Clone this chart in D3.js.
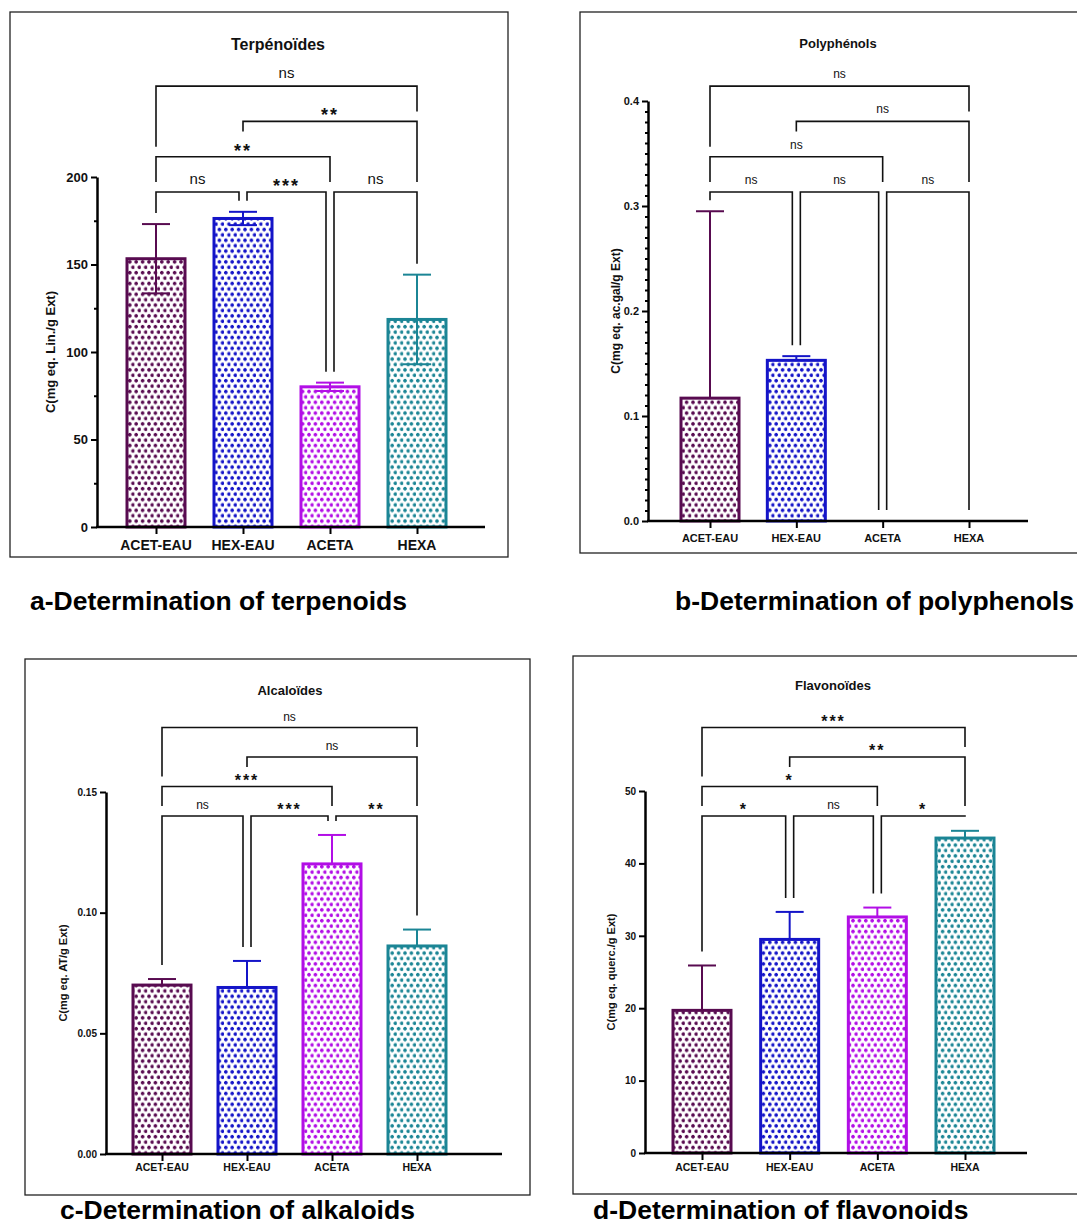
<!DOCTYPE html>
<html>
<head>
<meta charset="utf-8">
<script src="https://cdn.jsdelivr.net/npm/d3@7"></script>
<style>
  body { margin: 0; background: #fff; }
  text { font-family: "Liberation Sans", Arial, sans-serif; }
</style>
</head>
<body>
<svg id="fig" width="1077" height="1226"></svg>
<script>
// groups and colours
var groups = ["ACET-EAU", "HEX-EAU", "ACETA", "HEXA"];
var colors = ["#580b50", "#1414c8", "#b20ee6", "#1b8595"];

// a - terpenoids
var terpMean = [153.3, 176.3, 80.1, 118.6];
var terpSd = [19.8, 3.8, 2.4, 25.6];
var terpTicks = [0, 50, 100, 150, 200];
var terpMinor = [25, 75, 125, 175];
var terpStats = [[0, 1, 0, "ns"], [1, 2, 0, "***"], [2, 3, 0, "ns"], [0, 2, 1, "**"], [1, 3, 2, "**"], [0, 3, 3, "ns"]];

// b - polyphenols
var polyMean = [0.117, 0.153, 0, 0];
var polySd = [0.178, 0.004, 0, 0];
var polyTicks = [0, 0.1, 0.2, 0.3, 0.4];
var polyStats = [[0, 1, 0, "ns"], [1, 2, 0, "ns"], [2, 3, 0, "ns"], [0, 2, 1, "ns"], [1, 3, 2, "ns"], [0, 3, 3, "ns"]];

// c - alkaloids
var alcMean = [0.0700, 0.0690, 0.1202, 0.0862];
var alcSd = [0.0025, 0.0110, 0.0120, 0.0068];
var alcTicks = [0, 0.05, 0.10, 0.15];
var alcStats = [[0, 1, 0, "ns"], [1, 2, 0, "***"], [2, 3, 0, "**"], [0, 2, 1, "***"], [1, 3, 2, "ns"], [0, 3, 3, "ns"]];

// d - flavonoids
var flavMean = [19.7, 29.5, 32.6, 43.5];
var flavSd = [6.2, 3.8, 1.3, 1.0];
var flavTicks = [0, 10, 20, 30, 40, 50];
var flavStats = [[0, 1, 0, "*"], [1, 2, 0, "ns"], [2, 3, 0, "*"], [0, 2, 1, "*"], [1, 3, 2, "**"], [0, 3, 3, "***"]];

var svg = d3.select("#fig");
var barW = 58;

// dotted fill patterns, one per colour
var defs = svg.append("defs");
colors.forEach(function(c, i) {
  var pat = defs.append("pattern")
    .attr("id", "pat" + i)
    .attr("patternUnits", "userSpaceOnUse")
    .attr("width", 6.4)
    .attr("height", 10.8);
  pat.append("rect").attr("width", 6.4).attr("height", 10.8).attr("fill", "#fff");
  [[1.8, 2.7], [5.0, 8.1]].forEach(function(pt) {
    pat.append("rect").attr("x", pt[0] - 1.8).attr("y", pt[1] - 1).attr("width", 3.6).attr("height", 2).attr("fill", c);
    pat.append("rect").attr("x", pt[0] - 1).attr("y", pt[1] - 1.8).attr("width", 2).attr("height", 3.6).attr("fill", c);
  });
});

var panels = [
  { title: "Terpénoïdes", ylab: "C(mg eq. Lin./g Ext)", mean: terpMean, sd: terpSd, stats: terpStats,
    ticks: terpTicks, minor: terpMinor, yMax: 200, fmt: d3.format("d"), lowerErr: true,
    frame: [10, 12, 498, 545], ax: 97, axEnd: 485, y0: 527, yTop: 177, cx: [156, 417],
    lvl0: 192, lvlStep: 35.3, titleX: 278, titleY: 50, ylabX: 55, xlabY: 550,
    fTick: 13, fX: 14, fTitle: 16, fYlab: 13, fNs: 15, fStar: 18, nsGap: 8, starGap: 0, barGap: 11,
    caption: "a-Determination of terpenoids", capX: 30, capY: 610 },
  { title: "Polyphénols", ylab: "C(mg eq. ac.gal/g Ext)", mean: polyMean, sd: polySd, stats: polyStats,
    ticks: polyTicks, minor: d3.range(1, 40).filter(function(v) { return v % 10; }).map(function(v) { return v / 100; }),
    yMax: 0.4, fmt: d3.format(".1f"), lowerErr: false,
    frame: [580, 12, 505, 541], ax: 648, axEnd: 1028, y0: 521, yTop: 101, cx: [710, 969],
    lvl0: 192, lvlStep: 35.3, titleX: 838, titleY: 48, ylabX: 620, xlabY: 542,
    fTick: 11, fX: 11, fTitle: 13, fYlab: 12, fNs: 12, fStar: 14, nsGap: 8, starGap: 0, barGap: 11,
    caption: "b-Determination of polyphenols", capX: 675, capY: 610 },
  { title: "Alcaloïdes", ylab: "C(mg eq. AT/g Ext)", mean: alcMean, sd: alcSd, stats: alcStats,
    ticks: alcTicks, minor: [], yMax: 0.15, fmt: d3.format(".2f"), lowerErr: false,
    frame: [25, 659, 505, 536], ax: 106, axEnd: 502, y0: 1154, yTop: 792, cx: [162, 417],
    lvl0: 816, lvlStep: 29.5, titleX: 290, titleY: 695, ylabX: 67, xlabY: 1171,
    fTick: 10, fX: 10.5, fTitle: 13, fYlab: 11, fNs: 12, fStar: 16, nsGap: 7, starGap: 1, barGap: 14,
    caption: "c-Determination of alkaloids", capX: 60, capY: 1219 },
  { title: "Flavonoïdes", ylab: "C(mg eq. querc./g Ext)", mean: flavMean, sd: flavSd, stats: flavStats,
    ticks: flavTicks, minor: [], yMax: 50, fmt: d3.format("d"), lowerErr: false,
    frame: [573, 656, 510, 538], ax: 645, axEnd: 1027, y0: 1153, yTop: 791, cx: [702, 965],
    lvl0: 816, lvlStep: 29.5, titleX: 833, titleY: 690, ylabX: 615, xlabY: 1171,
    fTick: 10, fX: 10.5, fTitle: 13, fYlab: 11, fNs: 12, fStar: 16, nsGap: 7, starGap: 1, barGap: 14,
    caption: "d-Determination of flavonoids", capX: 593, capY: 1219 }
];

function drawPanel(p) {
  var g = svg.append("g");

  // frame
  g.append("rect")
    .attr("x", p.frame[0]).attr("y", p.frame[1])
    .attr("width", p.frame[2]).attr("height", p.frame[3])
    .attr("fill", "none").attr("stroke", "#222").attr("stroke-width", 1.3);

  var x = d3.scalePoint().domain(groups).range(p.cx);
  var y = d3.scaleLinear().domain([0, p.yMax]).range([p.y0, p.yTop]);

  // bars
  g.selectAll("rect.bar")
    .data(groups)
    .enter()
    .append("rect")
    .attr("class", "bar")
    .attr("x", function(d) { return x(d) - barW / 2; })
    .attr("y", function(d, i) { return y(p.mean[i]); })
    .attr("width", barW)
    .attr("height", function(d, i) { return y(0) - y(p.mean[i]); })
    .attr("fill", function(d, i) { return "url(#pat" + i + ")"; })
    .attr("stroke", function(d, i) { return colors[i]; })
    .attr("stroke-width", 3);

  // error bars
  groups.forEach(function(d, i) {
    if (p.sd[i] <= 0) return;
    var lo = p.lowerErr ? p.mean[i] - p.sd[i] : p.mean[i];
    var hi = p.mean[i] + p.sd[i];
    var eb = g.append("g").attr("stroke", colors[i]).attr("stroke-width", 2);
    eb.append("line").attr("x1", x(d)).attr("x2", x(d)).attr("y1", y(lo)).attr("y2", y(hi));
    eb.append("line").attr("x1", x(d) - 14).attr("x2", x(d) + 14).attr("y1", y(hi)).attr("y2", y(hi));
    if (p.lowerErr) {
      eb.append("line").attr("x1", x(d) - 14).attr("x2", x(d) + 14).attr("y1", y(lo)).attr("y2", y(lo));
    }
  });

  // y axis
  var yAxis = g.append("g")
    .attr("transform", "translate(" + p.ax + ",0)")
    .call(d3.axisLeft(y).tickValues(p.ticks).tickFormat(p.fmt).tickSize(6).tickSizeOuter(0));
  yAxis.select(".domain").attr("stroke-width", 2.5).attr("stroke", "#000");
  yAxis.selectAll(".tick line").attr("stroke-width", 2).attr("stroke", "#000");
  yAxis.selectAll(".tick text")
    .attr("font-size", p.fTick).attr("font-weight", "bold").attr("fill", "#111")
    .attr("font-family", "'Liberation Sans', Arial, sans-serif").attr("x", -9);

  if (p.minor.length) {
    var yMinor = g.append("g")
      .attr("transform", "translate(" + p.ax + ",0)")
      .call(d3.axisLeft(y).tickValues(p.minor).tickFormat("").tickSize(3).tickSizeOuter(0));
    yMinor.select(".domain").remove();
    yMinor.selectAll(".tick line").attr("stroke-width", 2).attr("stroke", "#000");
  }

  // x axis
  g.append("line")
    .attr("x1", p.ax - 1).attr("x2", p.axEnd)
    .attr("y1", p.y0).attr("y2", p.y0)
    .attr("stroke", "#000").attr("stroke-width", 2.5);
  var xAxis = g.append("g")
    .attr("transform", "translate(0," + p.y0 + ")")
    .call(d3.axisBottom(x).tickSize(7).tickSizeOuter(0));
  xAxis.select(".domain").remove();
  xAxis.selectAll(".tick line").attr("stroke-width", 2).attr("stroke", "#000");
  xAxis.selectAll(".tick text").remove();

  g.selectAll("text.xlab")
    .data(groups)
    .enter()
    .append("text")
    .attr("class", "xlab")
    .attr("x", function(d) { return x(d); })
    .attr("y", p.xlabY)
    .attr("text-anchor", "middle")
    .attr("font-size", p.fX)
    .attr("font-weight", "bold")
    .attr("fill", "#111")
    .text(function(d) { return d; });

  // y label
  g.append("text")
    .attr("transform", "translate(" + p.ylabX + "," + ((p.y0 + p.yTop) / 2) + ") rotate(-90)")
    .attr("text-anchor", "middle")
    .attr("font-size", p.fYlab)
    .attr("font-weight", "bold")
    .attr("fill", "#111")
    .text(p.ylab);

  // title
  g.append("text")
    .attr("x", p.titleX).attr("y", p.titleY)
    .attr("text-anchor", "middle")
    .attr("font-size", p.fTitle)
    .attr("font-weight", "bold")
    .attr("fill", "#111")
    .text(p.title);

  // significance brackets
  function lvlY(l) { return p.lvl0 - l * p.lvlStep; }

  function endX(b, k, side) {
    var shared = p.stats.some(function(s) {
      return s !== b && s[2] === b[2] && (s[0] === k || s[1] === k);
    });
    return x(groups[k]) + (shared ? -4 * side : 0);
  }

  function legBottom(b, k) {
    var lower = p.stats.filter(function(s) { return s[2] < b[2]; });
    if (lower.some(function(s) { return s[0] < k && k < s[1]; })) return lvlY(b[2]) + 10;
    var bottom = y(p.mean[k] + p.sd[k]) - p.barGap;
    lower.forEach(function(s) {
      if (s[0] === k || s[1] === k) bottom = Math.min(bottom, lvlY(s[2]) - 10);
    });
    return bottom;
  }

  p.stats.forEach(function(b) {
    var ly = lvlY(b[2]);
    var xl = endX(b, b[0], -1);
    var xr = endX(b, b[1], 1);
    var path = d3.path();
    path.moveTo(xl, legBottom(b, b[0]));
    path.lineTo(xl, ly);
    path.lineTo(xr, ly);
    path.lineTo(xr, legBottom(b, b[1]));
    g.append("path")
      .attr("d", path.toString())
      .attr("fill", "none")
      .attr("stroke", "#111")
      .attr("stroke-width", 1.6);

    var isNs = b[3] === "ns";
    g.append("text")
      .attr("x", (xl + xr) / 2)
      .attr("y", isNs ? ly - p.nsGap : ly - p.starGap)
      .attr("text-anchor", "middle")
      .attr("font-size", isNs ? p.fNs : p.fStar)
      .attr("font-weight", isNs ? "normal" : "bold")
      .attr("letter-spacing", isNs ? 0 : 2)
      .attr("fill", "#111")
      .text(b[3]);
  });

  // caption
  svg.append("text")
    .attr("x", p.capX).attr("y", p.capY)
    .attr("font-size", 26.5)
    .attr("font-weight", "bold")
    .attr("fill", "#000")
    .text(p.caption);
}

panels.forEach(drawPanel);
</script>
</body>
</html>
